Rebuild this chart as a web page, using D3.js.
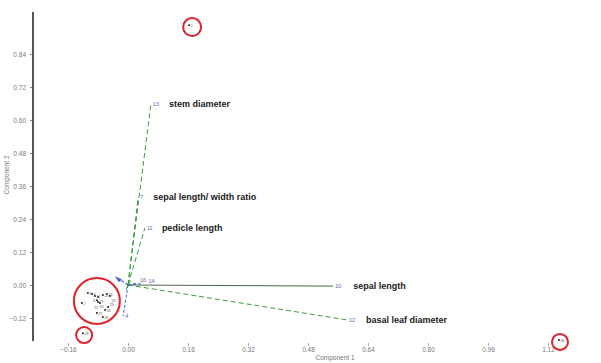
<!DOCTYPE html>
<html>
<head>
<meta charset="utf-8">
<script src="https://cdn.jsdelivr.net/npm/d3@7/dist/d3.min.js"></script>
<style>
  body { margin: 0; background: #fff; }
  svg { display: block; }
  .tick text { font-family: "Liberation Sans", Arial, sans-serif; }
</style>
</head>
<body>
<svg id="chart" width="601" height="363"></svg>
<script>
// Variable loadings (biplot vectors): id, name, x, y, colour group
const varIds   = ["13", "7", "11", "10", "12", "4", "16", "14", "2", "5", "9", "1"];
const varNames = ["stem diameter", "sepal length/ width ratio", "pedicle length", "sepal length", "basal leaf diameter", "", "", "", "", "", "", ""];
const varX     = [0.061, 0.027, 0.045, 0.547, 0.584, -0.013, 0.024, 0.036, -0.027, -0.020, 0.010, -0.006];
const varY     = [0.658, 0.320, 0.207, -0.004, -0.127, -0.113, 0.007, 0.005, 0.025, 0.018, 0.024, -0.020];
const varGroup = ["g", "g", "g", "s", "g", "b", "b", "b", "b", "b", "g", "g"];

// Sample scores
const ptIds = ["3", "8", "17", "21", "6", "19", "22", "25", "24", "20", "2", "27", "26", "18", "23", "1", "28", "30"];
const ptX   = [-0.107, -0.096, -0.088, -0.080, -0.083, -0.080, -0.075, -0.067, -0.056, -0.048, -0.123, -0.083, -0.067, -0.061, -0.053, 0.163, -0.120, 1.149];
const ptY   = [-0.029, -0.033, -0.040, -0.044, -0.055, -0.062, -0.065, -0.036, -0.033, -0.040, -0.065, -0.102, -0.116, -0.091, -0.080, 0.945, -0.175, -0.200];

// Highlight rings around groups of samples: centre (data units) and radius (px)
const ringX = [-0.083, 0.171, -0.117, 1.152];
const ringY = [-0.058, 0.938, -0.182, -0.207];
const ringR = [23, 9, 8, 8];

// Axis ticks
const xTicks = [-0.16, 0.00, 0.16, 0.32, 0.48, 0.64, 0.80, 0.96, 1.12];
const yTicks = [-0.12, 0.00, 0.12, 0.24, 0.36, 0.48, 0.60, 0.72, 0.84];

const svg = d3.select("#chart");
const x = d3.scaleLinear().domain([-0.16, 1.12]).range([68, 548]);
const y = d3.scaleLinear().domain([0, 0.84]).range([285, 54]);
const axisX = 33;
const fmt = d3.format(".2f");
const FONT = "Liberation Sans, Arial, sans-serif";

// Y axis
const yAxis = d3.axisLeft(y).tickValues(yTicks).tickFormat(fmt).tickSize(3).tickSizeOuter(0);
const gy = svg.append("g").attr("transform", `translate(${axisX},0)`).call(yAxis);
gy.select(".domain").remove();
gy.selectAll(".tick line").attr("stroke", "#888");
gy.selectAll(".tick text").attr("font-size", 6.5).attr("fill", "#777").attr("dx", -1);
svg.append("line").attr("x1", axisX).attr("x2", axisX).attr("y1", 12).attr("y2", 341)
  .attr("stroke", "#555").attr("stroke-width", 2);

// X axis (ticks and labels only)
const xAxis = d3.axisBottom(x).tickValues(xTicks).tickFormat(fmt).tickSize(3).tickSizeOuter(0);
const gx = svg.append("g").attr("transform", "translate(0,343)").call(xAxis);
gx.select(".domain").remove();
gx.selectAll(".tick line").attr("stroke", "#aaa");
gx.selectAll(".tick text").attr("font-size", 6.5).attr("fill", "#777").attr("dy", "0.45em");

// Axis titles
svg.append("text").attr("x", 335).attr("y", 360).attr("text-anchor", "middle")
  .attr("font-family", FONT).attr("font-size", 6.5).attr("fill", "#777")
  .text("Component 1");
svg.append("text").attr("transform", "translate(9,175) rotate(-90)").attr("text-anchor", "middle")
  .attr("font-family", FONT).attr("font-size", 6.5).attr("fill", "#777")
  .text("Component 2");

// Loading vectors
const colour = { g: "#3c9a3c", s: "#4a6a4a", b: "#4a5fd0" };
const dash = { g: "5,3", s: null, b: "3,2" };
const vars = varIds.map((id, i) => ({ id, name: varNames[i], x: varX[i], y: varY[i], g: varGroup[i] }));
const vg = svg.append("g");
vg.selectAll("line").data(vars).join("line")
  .attr("x1", x(0)).attr("y1", y(0))
  .attr("x2", d => x(d.x)).attr("y2", d => y(d.y))
  .attr("stroke", d => colour[d.g]).attr("stroke-width", 1)
  .attr("stroke-dasharray", d => dash[d.g]);

// Arrow head on the upper-left blue vector
const av = vars.find(d => d.id === "2");
svg.append("path")
  .attr("d", `M${x(av.x) - 3},${y(av.y) - 2} L${x(av.x) + 4},${y(av.y) + 1} L${x(av.x) + 1},${y(av.y) + 4} Z`)
  .attr("fill", "#4a5fd0");

// Vector id tags (the two short ones near the origin sit side by side)
const tagShift = { "16": [3, -1], "14": [7, -1] };
vg.selectAll("text.id").data(vars.filter(d => ["13", "7", "11", "10", "12", "4", "16", "14"].includes(d.id)))
  .join("text").attr("class", "id")
  .attr("x", d => x(d.x) + (tagShift[d.id] ? tagShift[d.id][0] : 2))
  .attr("y", d => y(d.y) + (tagShift[d.id] ? tagShift[d.id][1] : 2))
  .attr("font-family", FONT).attr("font-size", 5.5)
  .attr("fill", "#5a64a8").text(d => d.id);

// Vector names
const nameOffset = { "13": 18, "7": 15, "11": 17, "10": 20, "12": 19 };
vg.selectAll("text.name").data(vars.filter(d => d.name))
  .join("text").attr("class", "name")
  .attr("x", d => x(d.x) + nameOffset[d.id]).attr("y", d => y(d.y) + 3)
  .attr("font-family", FONT).attr("font-size", 9)
  .attr("font-weight", "bold").attr("fill", "#1a1a1a").text(d => d.name);

// Sample points
const pts = ptIds.map((id, i) => ({ id, x: ptX[i], y: ptY[i] }));
const pg = svg.append("g");
pg.selectAll("circle").data(pts).join("circle")
  .attr("cx", d => x(d.x)).attr("cy", d => y(d.y)).attr("r", 1)
  .attr("fill", "#222");

// Point labels: greedy placement so the tiny tags do not collide
const placed = [];
const fs = 3.6;
const cand = [[1.5, 1], [-1.5, 1], [1.5, -2.5], [-1.5, -2.5], [1.5, 4.5], [-1.5, 4.5], [3, -5], [-3, 6]];
pts.forEach(d => {
  const w = d.id.length * fs * 0.56, h = fs;
  const px = x(d.x), py = y(d.y);
  let best = null;
  for (const [dx, dy] of cand) {
    const x0 = dx >= 0 ? px + dx : px + dx - w;
    const box = { x0, x1: x0 + w, y0: py + dy - h * 0.5, y1: py + dy + h * 0.5 };
    const hit = placed.some(b => !(box.x1 < b.x0 || box.x0 > b.x1 || box.y1 < b.y0 || box.y0 > b.y1));
    if (!hit) { best = box; break; }
  }
  if (!best) {
    const x0 = px + 1.5;
    best = { x0, x1: x0 + w, y0: py - h * 0.5 + 8, y1: py + h * 0.5 + 8 };
  }
  placed.push(best);
  d.lx = best.x0; d.ly = best.y1 - 0.5;
});
pg.selectAll("text").data(pts).join("text")
  .attr("x", d => d.lx).attr("y", d => d.ly)
  .attr("font-family", FONT).attr("font-size", fs)
  .attr("fill", "#555").text(d => d.id);

// Rings
svg.append("g").selectAll("circle").data(ringX.map((v, i) => ({ x: v, y: ringY[i], r: ringR[i] })))
  .join("circle")
  .attr("cx", d => x(d.x)).attr("cy", d => y(d.y)).attr("r", d => d.r)
  .attr("fill", "none").attr("stroke", "#e0202a").attr("stroke-width", 2);
</script>
</body>
</html>
